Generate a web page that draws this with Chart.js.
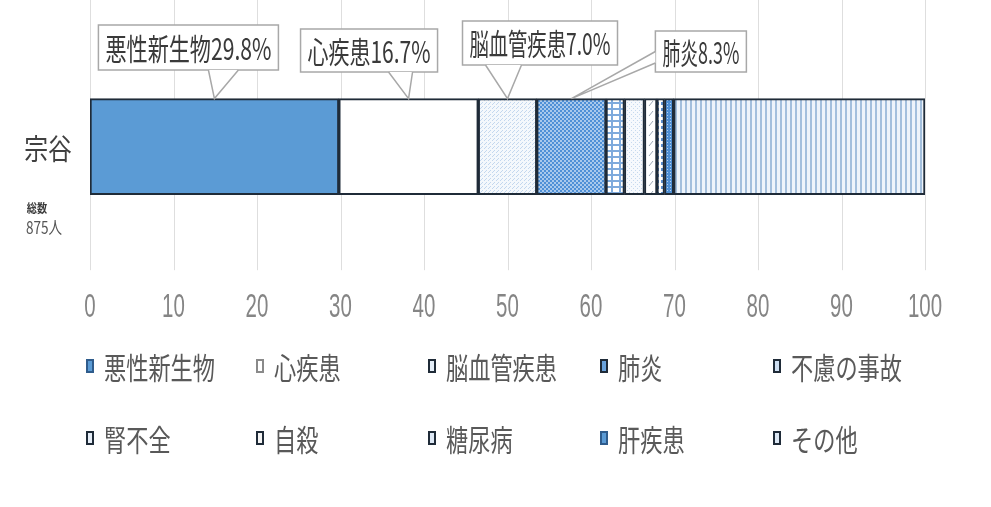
<!DOCTYPE html>
<html lang="ja">
<head>
<meta charset="utf-8">
<script src="https://cdn.jsdelivr.net/npm/chart.js@4.4.0/dist/chart.umd.min.js"></script>
<style>
  html, body { margin: 0; padding: 0; background: #fff; }
  #wrap { position: relative; width: 991px; height: 507px; overflow: hidden; }
  #legend { position: absolute; left: 0; top: 0; width: 991px; height: 507px; pointer-events: none; }
  .item { position: absolute; height: 36px; display: flex; align-items: center; }
  .mark { width: 4px; height: 10px; border: 2px solid #26303c; margin-right: 10px; flex: none; }
  .txt { font-family: "Noto Sans CJK JP", sans-serif; font-size: 30px; color: #595959;
         transform: scaleX(0.74); transform-origin: left center; white-space: nowrap; }
</style>
</head>
<body>
<div id="wrap">
  <canvas id="deathChart" width="991" height="507"></canvas>
  <div id="legend"></div>
</div>
<script>
// 死因別割合（%）
const region = ['宗谷'];
const totalLines = ['総数', '875人'];
const causes = ['悪性新生物', '心疾患', '脳血管疾患', '肺炎', '不慮の事故', '腎不全', '自殺', '糖尿病', '肝疾患', 'その他'];
const shares = [29.8, 16.7, 7.0, 8.3, 2.2, 2.4, 1.5, 0.9, 1.1, 30.1];
const labelledCauses = [0, 1, 2, 3];
const xMin = 0, xMax = 100, xStep = 10;

const BLUE = '#5b9bd5';
const EDGE = '#1f2b38';

function makePattern(w, h, draw) {
    const c = document.createElement('canvas');
    c.width = w; c.height = h;
    const g = c.getContext('2d');
    draw(g);
    return g.createPattern(c, 'repeat');
}

const fills = [
    BLUE,
    '#ffffff',
    makePattern(4, 4, g => { g.fillStyle = '#f4f8fc'; g.fillRect(0, 0, 4, 4); g.fillStyle = '#c3d7ee'; g.fillRect(0, 0, 1, 1); g.fillRect(2, 2, 1, 1); g.fillRect(1, 3, 1, 1); }),
    makePattern(4, 4, g => { g.fillStyle = '#4f90d6'; g.fillRect(0, 0, 4, 4); g.fillStyle = '#a9c9ec'; g.fillRect(0, 0, 2, 2); g.fillRect(2, 2, 2, 2); }),
    makePattern(8, 6, g => { g.fillStyle = '#ffffff'; g.fillRect(0, 0, 8, 6); g.fillStyle = '#7eaadc'; g.fillRect(0, 0, 8, 2); g.fillRect(3, 0, 2, 6); }),
    makePattern(4, 4, g => { g.fillStyle = '#f6f9fd'; g.fillRect(0, 0, 4, 4); g.fillStyle = '#c6d9ee'; g.fillRect(1, 0, 1, 1); g.fillRect(3, 2, 1, 1); }),
    makePattern(8, 10, g => { g.fillStyle = '#ffffff'; g.fillRect(0, 0, 8, 10); g.strokeStyle = '#9aa6b4'; g.lineWidth = 1; g.beginPath(); g.moveTo(1, 6); g.lineTo(5, 1); g.stroke(); }),
    makePattern(4, 6, g => { g.fillStyle = '#ffffff'; g.fillRect(0, 0, 4, 6); g.fillStyle = '#5a8ed0'; g.fillRect(1, 0, 2, 3); }),
    makePattern(3, 3, g => { g.fillStyle = '#4f8fd4'; g.fillRect(0, 0, 3, 3); g.fillStyle = '#b7d2ef'; g.fillRect(1, 1, 1, 1); }),
    makePattern(5, 4, g => { g.fillStyle = '#eef4fb'; g.fillRect(0, 0, 5, 4); g.fillStyle = '#a3bfdd'; g.fillRect(0, 0, 2, 4); })
];

const legendFills = [BLUE, '#ffffff', '#e4eef8', '#6aa3dc', '#cfe0f3', '#e6eef8', '#f4f4f4', '#dde8f5', '#5b9bd5', '#dce8f5'];
const legendEdges = ['#2f5c8c', '#8a8a8a', EDGE, EDGE, EDGE, EDGE, EDGE, EDGE, '#2f5c8c', EDGE];

// segment midpoints (cumulative) used by the callouts
function midValue(i) {
    let s = 0;
    for (let k = 0; k < i; k++) s += shares[k];
    return s + shares[i] / 2;
}

// draws text squeezed horizontally; fitW forces a width when given
function scaledText(ctx, text, x, y, font, sx, color, align, fitW) {
    ctx.save();
    ctx.font = font;
    ctx.fillStyle = color;
    ctx.textBaseline = 'middle';
    const raw = ctx.measureText(text).width;
    if (fitW) sx = fitW / raw;
    const w = raw * sx;
    const left = align === 'center' ? x - w / 2 : x;
    ctx.translate(left, y);
    ctx.scale(sx, 1);
    ctx.fillText(text, 0, 0);
    ctx.restore();
}

// box placement relative to the pointer tip
const calloutLayout = [
    { dx: -116, top: 25, w: 180, h: 45, wedge: [-6, 24] },
    { dx: -108, top: 29, w: 137, h: 43, wedge: [-20, 4] },
    { dx: -45, top: 21, w: 155, h: 44, wedge: [-22, 14] },
    { dx: 84, top: 31, w: 91, h: 41, side: true }
];

const CJK = '"Noto Sans CJK JP", sans-serif';

const decorations = {
    id: 'decorations',
    beforeDatasetsDraw(chart) {
        const { ctx, chartArea, scales: { x } } = chart;
        ctx.save();
        ctx.strokeStyle = '#dedede';
        ctx.lineWidth = 1;
        x.ticks.forEach((t, i) => {
            const px = Math.round(x.getPixelForTick(i)) + 0.5;
            ctx.beginPath();
            ctx.moveTo(px, 0);
            ctx.lineTo(px, chartArea.bottom);
            ctx.stroke();
        });
        ctx.restore();
    },
    afterDatasetsDraw(chart) {
        const { ctx, chartArea, scales: { x, y } } = chart;
        const bar = chart.getDatasetMeta(0).data[0];
        const barTop = bar.y - bar.height / 2;

        // narrow tick labels
        x.ticks.forEach((t, i) => {
            scaledText(ctx, String(t.value), x.getPixelForTick(i), chartArea.bottom + 38,
                '33px "Liberation Sans", sans-serif', 0.62, '#858585', 'center');
        });

        labelledCauses.forEach((ci, n) => {
            const L = calloutLayout[n];
            const tipX = x.getPixelForValue(midValue(ci));
            const text = causes[ci] + shares[ci].toFixed(1) + '%';
            const left = tipX + L.dx;
            const top = L.top;
            ctx.save();
            ctx.fillStyle = '#ffffff';
            ctx.strokeStyle = '#a8a8a8';
            ctx.lineWidth = 1.5;
            ctx.fillRect(left, top, L.w, L.h);
            ctx.strokeRect(left, top, L.w, L.h);
            let p1, p2;
            if (L.side) {
                p1 = [left, top + L.h * 0.5];
                p2 = [left, top + L.h * 0.78];
            } else {
                p1 = [tipX + L.wedge[0], top + L.h];
                p2 = [tipX + L.wedge[1], top + L.h];
            }
            ctx.beginPath();
            ctx.moveTo(p1[0], p1[1]);
            ctx.lineTo(tipX, barTop);
            ctx.lineTo(p2[0], p2[1]);
            ctx.closePath();
            ctx.fill();
            ctx.beginPath();
            ctx.moveTo(p1[0], p1[1]);
            ctx.lineTo(tipX, barTop);
            ctx.lineTo(p2[0], p2[1]);
            ctx.stroke();
            ctx.restore();
            scaledText(ctx, text, left + L.w / 2, top + L.h / 2 + 1, '30px ' + CJK, 1, '#3a3a3a', 'center', L.w - 14);
        });

        // category label with the total count under it
        const cy = y.getPixelForValue(0);
        scaledText(ctx, region[0], 48, cy + 2, '29px ' + CJK, 0.82, '#404040', 'center');
        scaledText(ctx, totalLines[0], 37, cy + 62, 'bold 12px ' + CJK, 0.85, '#3c3c3c', 'center');
        scaledText(ctx, totalLines[1], 44, cy + 81, '17px ' + CJK, 0.8, '#555555', 'center');
    }
};

const chart = new Chart(document.getElementById('deathChart'), {
    type: 'bar',
    data: {
        labels: region,
        datasets: causes.map((c, i) => ({
            label: c,
            data: [shares[i]],
            backgroundColor: fills[i],
            borderColor: EDGE,
            borderWidth: 2,
            borderSkipped: false,
            barThickness: 96
        }))
    },
    options: {
        indexAxis: 'y',
        responsive: false,
        animation: false,
        devicePixelRatio: 1,
        layout: { padding: { left: 90, right: 66, top: 23, bottom: 162 } },
        plugins: { legend: { display: false }, tooltip: { enabled: false } },
        scales: {
            x: {
                stacked: true,
                min: xMin, max: xMax,
                grid: { display: false, drawTicks: false },
                border: { display: false },
                ticks: {
                    stepSize: xStep,
                    padding: 20,
                    color: 'rgba(0,0,0,0)',
                    font: { family: '"Liberation Sans", sans-serif', size: 29 }
                }
            },
            y: {
                stacked: true,
                display: false
            }
        }
    },
    plugins: [decorations]
});

// legend built from the datasets, 5 per row
const legendCols = [86, 256, 428, 600, 773];
const legendRows = [366, 438];
const legendEl = document.getElementById('legend');
chart.data.datasets.forEach((ds, i) => {
    const item = document.createElement('div');
    item.className = 'item';
    item.style.left = legendCols[i % 5] + 'px';
    item.style.top = (legendRows[Math.floor(i / 5)] - 18) + 'px';
    const mark = document.createElement('span');
    mark.className = 'mark';
    mark.style.background = legendFills[i];
    mark.style.borderColor = legendEdges[i];
    const txt = document.createElement('span');
    txt.className = 'txt';
    txt.textContent = ds.label;
    item.appendChild(mark);
    item.appendChild(txt);
    legendEl.appendChild(item);
});
</script>
</body>
</html>
